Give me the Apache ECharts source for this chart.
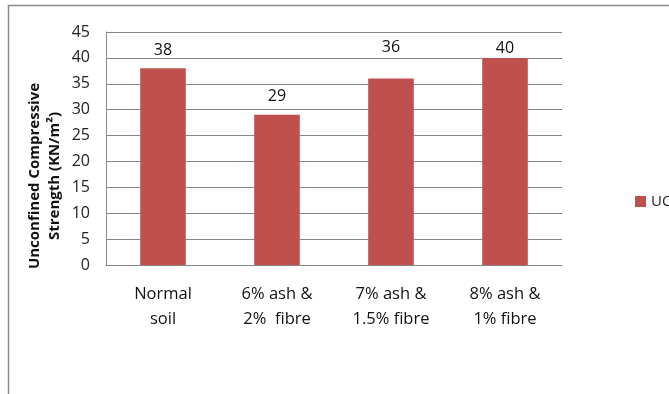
<!DOCTYPE html>
<html>
<head>
<meta charset="utf-8">
<script src="https://cdn.jsdelivr.net/npm/echarts@6/dist/echarts.min.js"></script>
<style>
html,body{margin:0;padding:0;background:#fff;}
#chart{width:669px;height:394px;}
</style>
</head>
<body>
<div id="chart"></div>
<script>
// Mix designs and their unconfined compressive strength
const categories = ['Normal\nsoil', '6% ash &\n2%  fibre', '7% ash &\n1.5% fibre', '8% ash &\n1% fibre'];
const uccValues = [38, 29, 36, 40];
const seriesName = 'UCC';
const axisTitle = 'Unconfined Compressive\nStrength (KN/m²)';

const FONT = '"Open Sans", "Liberation Sans", sans-serif';
const chart = echarts.init(document.getElementById('chart'), null, {renderer: 'canvas'});

// data labels were nudged by hand on two of the bars
const labelNudge = [0, 0, -13, 9];
const barData = uccValues.map((v, i) => ({
  value: v,
  label: labelNudge[i] ? {offset: [0, labelNudge[i]]} : undefined
}));

chart.setOption({
  animation: false,
  backgroundColor: '#fff',
  graphic: [{
    type: 'rect',
    shape: {x: 8.5, y: 5.5, width: 700, height: 420},
    style: {fill: 'none', stroke: '#8a8a8a', lineWidth: 1.5},
    silent: true
  }, {
    type: 'text',
    x: 45, y: 176,
    rotation: Math.PI / 2,
    silent: true,
    style: {
      text: axisTitle,
      font: 'bold 15px ' + FONT,
      fill: '#111',
      align: 'center',
      verticalAlign: 'middle',
      lineHeight: 20
    }
  }],
  grid: {left: 106, right: 107, top: 32, bottom: 129},
  legend: {
    data: [seriesName],
    left: 635, top: 194, padding: 0,
    icon: 'rect', itemWidth: 11, itemHeight: 11, itemGap: 4,
    textStyle: {fontFamily: FONT, fontSize: 15, color: '#222'}
  },
  xAxis: {
    type: 'category',
    data: categories,
    axisLine: {lineStyle: {color: '#868686'}},
    axisTick: {show: false},
    axisLabel: {
      fontFamily: FONT, fontSize: 16.5, color: '#111', margin: 17, lineHeight: 25, interval: 0
    }
  },
  yAxis: {
    type: 'value',
    min: 0, max: 45, interval: 5,
    axisLine: {show: true, lineStyle: {color: '#868686'}},
    axisTick: {show: false},
    axisLabel: {fontFamily: FONT, fontSize: 16, color: '#222', margin: 16},
    splitLine: {lineStyle: {color: '#868686', width: 1}}
  },
  series: [{
    name: seriesName,
    type: 'bar',
    data: barData,
    barWidth: '40%',
    itemStyle: {color: '#C0504D'},
    label: {
      show: true, position: 'top', distance: 10,
      fontFamily: FONT, fontSize: 16, color: '#111'
    }
  }]
});
</script>
</body>
</html>
